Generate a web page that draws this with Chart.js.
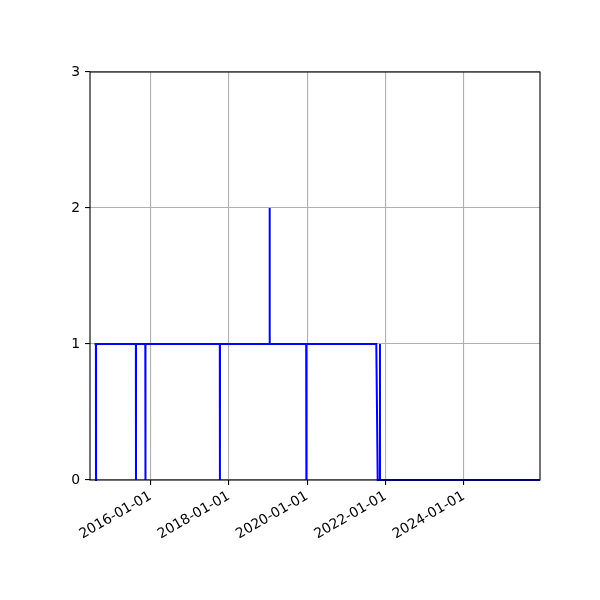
<!DOCTYPE html>
<html>
<head>
<meta charset="utf-8">
<script src="https://cdn.jsdelivr.net/npm/chart.js@4/dist/chart.umd.min.js"></script>
<style>
  html, body { margin: 0; padding: 0; background: #fff; }
  canvas { display: block; }
</style>
</head>
<body>
<canvas id="myChart" width="600" height="600"></canvas>
<script>
var dates = [
  "2014-07-27", "2014-08-09", "2014-08-10", "2014-08-11",
  "2015-08-17", "2015-08-18", "2015-08-19",
  "2015-11-13", "2015-11-14", "2015-11-15",
  "2017-10-08", "2017-10-09", "2017-10-10",
  "2019-01-15", "2019-01-16", "2019-01-17",
  "2019-12-23", "2019-12-24", "2019-12-25",
  "2021-10-07", "2021-10-20", "2021-11-09", "2021-11-10", "2021-11-11",
  "2025-12-12"
];
var values = [
  1, 1, 0, 1,
  1, 0, 1,
  1, 0, 1,
  1, 0, 1,
  1, 2, 1,
  1, 0, 1,
  1, 0, 0, 1, 0,
  0
];
var xTickLabels = ["2016-01-01", "2018-01-01", "2020-01-01", "2022-01-01", "2024-01-01"];
var yTicks = [0, 1, 2, 3];
var xRange = ["2014-06-15", "2025-12-12"];

function dayMs(s) { return Date.parse(s + "T00:00:00Z"); }

var points = dates.map(function (d, i) { return { x: dayMs(d), y: values[i] }; });

// black box round the plot, like matplotlib spines
var frame = {
  id: "frame",
  afterDatasetsDraw: function (chart) {
    var a = chart.chartArea, ctx = chart.ctx;
    ctx.save();
    ctx.strokeStyle = "#000";
    ctx.lineWidth = 1.1;
    ctx.strokeRect(a.left, a.top, a.right - a.left, a.bottom - a.top);
    ctx.restore();
  }
};

var font = { family: "DejaVu Sans", size: 13.9 };

new Chart("myChart", {
  type: "line",
  data: {
    datasets: [{
      data: points,
      borderColor: "#0000ff",
      borderWidth: 2,
      pointRadius: 0,
      tension: 0,
      clip: 4
    }]
  },
  options: {
    responsive: false,
    animation: false,
    layout: { padding: { top: 72, right: 60, left: 0, bottom: 0 } },
    plugins: { legend: { display: false }, tooltip: { enabled: false } },
    scales: {
      x: {
        type: "linear",
        min: dayMs(xRange[0]),
        max: dayMs(xRange[1]),
        afterBuildTicks: function (scale) {
          scale.ticks = xTickLabels.map(function (s) { return { value: dayMs(s) }; });
        },
        afterFit: function (scale) { scale.height = 120; },
        ticks: {
          autoSkip: false,
          minRotation: 30,
          maxRotation: 30,
          padding: 3,
          color: "#000",
          font: font,
          callback: function (v) { return new Date(v).toISOString().slice(0, 10); }
        },
        grid: { color: "#b0b0b0", lineWidth: 1.1, tickColor: "#000", tickLength: 5 },
        border: { display: false }
      },
      y: {
        min: 0,
        max: 3,
        afterBuildTicks: function (scale) {
          scale.ticks = yTicks.map(function (v) { return { value: v }; });
        },
        afterFit: function (scale) { scale.width = 90; },
        ticks: { padding: 5, color: "#000", font: font },
        grid: { color: "#b0b0b0", lineWidth: 1.1, tickColor: "#000", tickLength: 5 },
        border: { display: false }
      }
    }
  },
  plugins: [frame]
});
</script>
</body>
</html>
